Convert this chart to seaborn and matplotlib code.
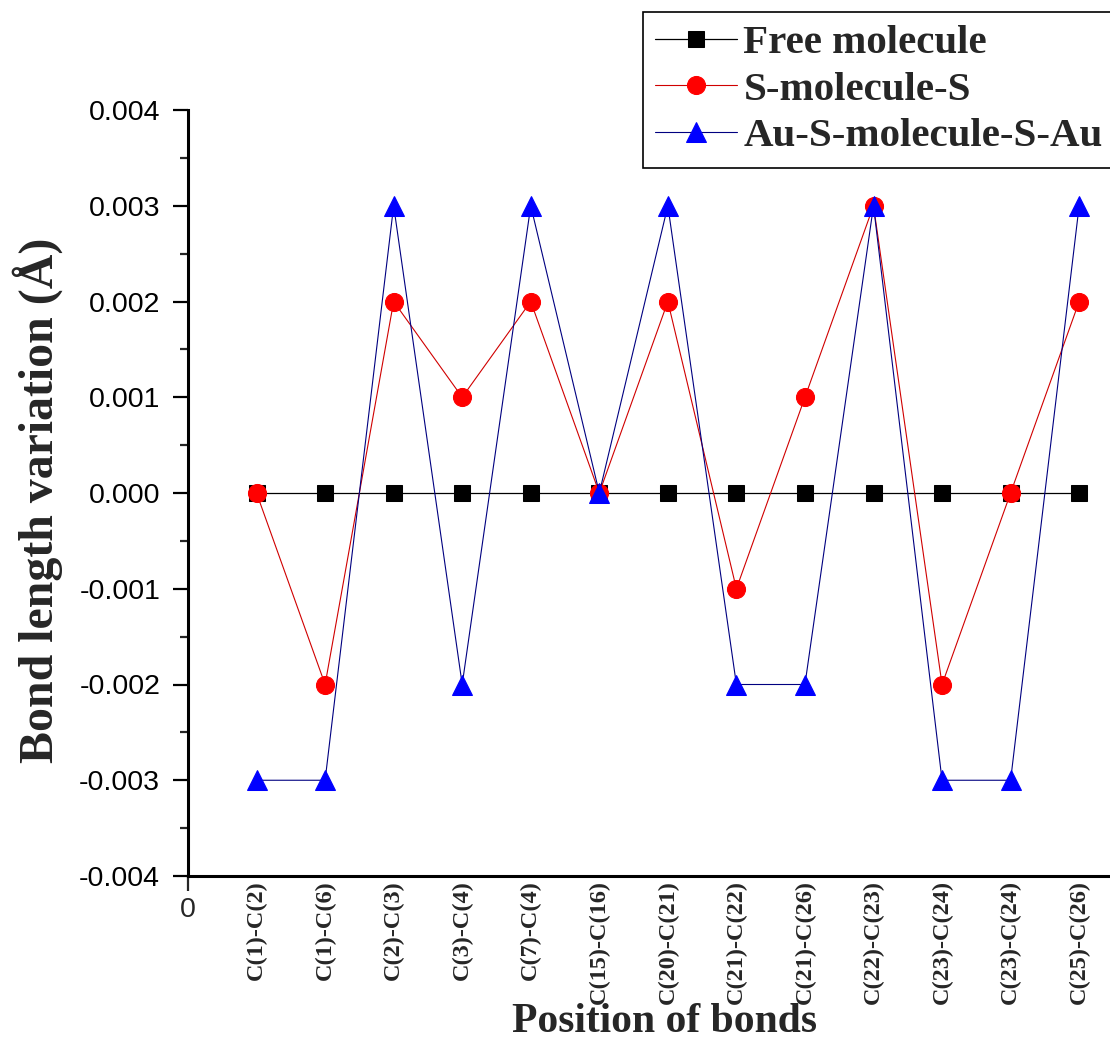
import numpy as np
import pandas as pd
import matplotlib
matplotlib.use("Agg")
import matplotlib.pyplot as plt
from matplotlib.font_manager import FontProperties
from matplotlib.ticker import MultipleLocator, FuncFormatter
import seaborn as sns

# ---- data ----
bonds = ["C(1)-C(2)", "C(1)-C(6)", "C(2)-C(3)", "C(3)-C(4)", "C(7)-C(4)",
         "C(15)-C(16)", "C(20)-C(21)", "C(21)-C(22)", "C(21)-C(26)",
         "C(22)-C(23)", "C(23)-C(24)", "C(23)-C(24)", "C(25)-C(26)"]
free_molecule = [0, 0, 0, 0, 0, 0, 0, 0, 0, 0, 0, 0, 0]
s_molecule_s = [0.000, -0.002, 0.002, 0.001, 0.002, 0.000, 0.002,
                -0.001, 0.001, 0.003, -0.002, 0.000, 0.002]
au_s_molecule_s_au = [-0.003, -0.003, 0.003, -0.002, 0.003, 0.000, 0.003,
                      -0.002, -0.002, 0.003, -0.003, -0.003, 0.003]
series_names = ["Free molecule", "S-molecule-S", "Au-S-molecule-S-Au"]

positions = list(range(1, len(bonds) + 1))

sns.set_style("ticks")
plt.rcParams["font.family"] = ["Liberation Sans", "DejaVu Sans"]

fig = plt.figure(figsize=(11.1, 10.4), dpi=100)
ax = fig.add_axes([188 / 1110, 1 - 876 / 1040, 1 - 188 / 1110, 766 / 1040])

df = pd.DataFrame({"pos": positions, "free": free_molecule,
                   "ss": s_molecule_s, "au": au_s_molecule_s_au})

sns.lineplot(data=df, x="pos", y="free", ax=ax, color="black", linewidth=0.9,
             marker="s", markersize=12, markeredgecolor="black",
             markerfacecolor="black", label=series_names[0])
sns.lineplot(data=df, x="pos", y="ss", ax=ax, color="#d00000", linewidth=0.8,
             marker="o", markersize=13, markeredgecolor="red",
             markerfacecolor="red", label=series_names[1])
sns.lineplot(data=df, x="pos", y="au", ax=ax, color="#000080", linewidth=0.8,
             marker="^", markersize=15, markeredgecolor="blue",
             markerfacecolor="blue", label=series_names[2])

ax.set_xlim(0, 13.45)
ax.set_ylim(-0.004, 0.004)

# y axis ticks
ax.yaxis.set_major_locator(MultipleLocator(0.001))
ax.yaxis.set_minor_locator(MultipleLocator(0.0005))
ax.yaxis.set_major_formatter(FuncFormatter(
    lambda v, p: f"{v:.3f}".replace("-0.000", "0.000")))
ax.tick_params(axis="y", which="major", direction="out", length=11, width=1.6,
               labelsize=20.5, pad=9, colors="black")
ax.tick_params(axis="y", which="minor", direction="out", length=6, width=1.6)

# x axis: "0" major tick + bond labels as minor ticks
ax.set_xticks([0])
ax.set_xticklabels(["0"])
ax.tick_params(axis="x", which="major", direction="out", length=11, width=1.6,
               labelsize=20.5, pad=4)
ax.set_xticks(positions, minor=True)
ax.set_xticklabels(bonds, minor=True, rotation=90, fontfamily="Liberation Serif",
                   fontweight="bold", fontsize=17.5)
ax.tick_params(axis="x", which="minor", length=0, pad=3)

for s in ["top", "right"]:
    ax.spines[s].set_visible(False)
for s in ["left", "bottom"]:
    ax.spines[s].set_linewidth(2.2)
    ax.spines[s].set_color("black")

ax.set_xlabel("Position of bonds", fontfamily="Liberation Serif",
              fontweight="bold", fontsize=30)
ax.xaxis.set_label_coords(0.517, -0.2037)
ax.xaxis.label.set_va("baseline")

ax.set_ylabel("Bond length variation (Å)", fontfamily="Liberation Serif",
              fontweight="bold", fontsize=34.5)
ax.yaxis.set_label_coords(-0.136, 0.491)

leg = ax.legend(loc="upper left", bbox_to_anchor=(643 / 1110, 1 - 12 / 1040),
                bbox_transform=fig.transFigure,
                prop=FontProperties(family="Liberation Serif", weight="bold", size=29.5),
                frameon=True, fancybox=False, edgecolor="black", framealpha=1,
                borderpad=0.3, labelspacing=0.22, handlelength=2.0,
                handletextpad=0.15, borderaxespad=0)
leg.get_frame().set_linewidth(1.2)

fig.savefig("out.png", dpi=100)
